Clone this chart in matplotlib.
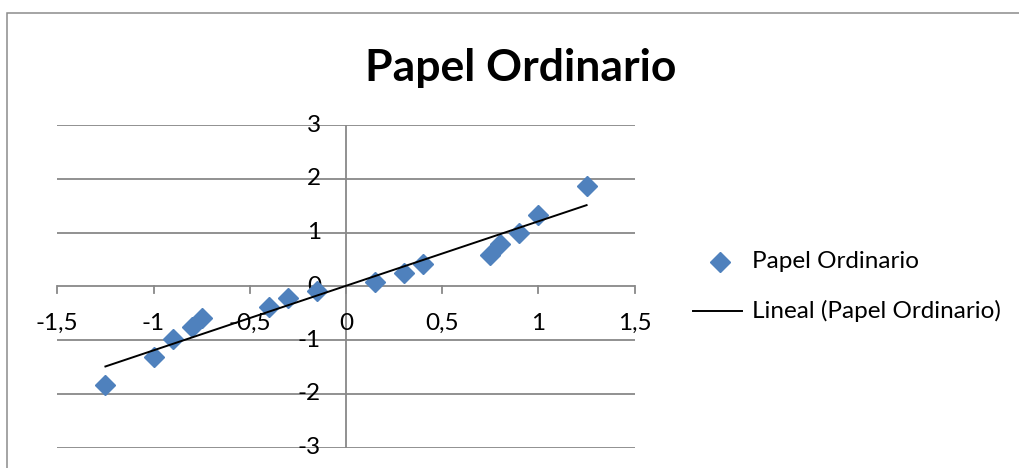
import numpy as np
import matplotlib
matplotlib.use("Agg")
import matplotlib.pyplot as plt
from matplotlib.patches import Rectangle
from matplotlib.lines import Line2D

plt.rcParams['font.family'] = ['Lato', 'DejaVu Sans']

# Normal-probability style pairs: theoretical score vs standardised value
x_vals = [-1.25, -1.0, -0.9, -0.8, -0.75, -0.4, -0.3, -0.15,
          0.15, 0.3, 0.4, 0.75, 0.8, 0.9, 1.0, 1.25]
y_vals = [-1.84, -1.31, -0.98, -0.75, -0.58, -0.38, -0.22, -0.09,
          0.09, 0.25, 0.41, 0.59, 0.78, 1.00, 1.33, 1.86]

x_ticks = [-1.5, -1.0, -0.5, 0.0, 0.5, 1.0, 1.5]
x_tick_labels = ["-1,5", "-1", "-0,5", "0", "0,5", "1", "1,5"]
y_ticks = [-3, -2, -1, 0, 1, 2, 3]
y_tick_labels = ["-3", "-2", "-1", "0", "1", "2", "3"]

title = "Papel Ordinario"
series_name = "Papel Ordinario"
trend_name = "Lineal (Papel Ordinario)"

W, H = 1019, 468
fig = plt.figure(figsize=(W / 100, H / 100), dpi=100)


def fx(px):
    return px / W


def fy(py):
    return 1 - py / H


# chart outer border
fig.patches.append(Rectangle((fx(7), -0.1), 1.2, fy(13) + 0.1,
                             transform=fig.transFigure, fill=False,
                             edgecolor="#8c8c8c", linewidth=1.1))

ax = fig.add_axes([fx(57.3), fy(447.7), 577.4 / W, 322.7 / H])
ax.set_xlim(-1.5, 1.5)
ax.set_ylim(-3, 3)

grid_col = "#888888"
grid_lw = 1.3
for yt in y_ticks:
    ax.axhline(yt, color=grid_col, linewidth=grid_lw, zorder=1)

for s in ["top", "right", "bottom", "left"]:
    ax.spines[s].set_visible(False)
ax.axvline(0, color=grid_col, linewidth=grid_lw, zorder=1)

ax.set_xticks([])
ax.set_yticks([])

tick_fs = 17.5

# x-axis tick marks and labels along y = 0
for xt, lab in zip(x_ticks, x_tick_labels):
    ax.plot([xt, xt], [0, -0.12], color=grid_col, linewidth=grid_lw,
            zorder=1, clip_on=False)
    ax.text(xt, -0.69, lab, ha="center", va="center", fontsize=tick_fs,
            zorder=2)

# y-axis labels next to the vertical axis at x = 0
for yt, lab in zip(y_ticks, y_tick_labels):
    ax.text(-0.13, yt, lab, ha="right", va="center", fontsize=tick_fs,
            zorder=2)

marker_col = "#4f81bd"
ax.plot(x_vals, y_vals, linestyle="none", marker="D", markersize=10.5,
        color=marker_col, zorder=4, clip_on=False)

# least-squares linear trendline
slope, intercept = np.polyfit(x_vals, y_vals, 1)
xt_line = np.array([min(x_vals), max(x_vals)])
ax.plot(xt_line, slope * xt_line + intercept, color="black", linewidth=1.4,
        zorder=5)

fig.text(fx(521), fy(81), title, ha="center", va="baseline",
         fontsize=32, fontweight="bold")

# legend
fig.add_artist(Line2D([fx(720)], [fy(262)], linestyle="none", marker="D",
                      markersize=10.5, color=marker_col,
                      transform=fig.transFigure))
fig.add_artist(Line2D([fx(693), fx(742)], [fy(311), fy(311)],
                      color="black", linewidth=1.4,
                      transform=fig.transFigure))
fig.text(fx(752), fy(262), series_name, ha="left", va="center",
         fontsize=17.5)
fig.text(fx(752), fy(311), trend_name, ha="left", va="center",
         fontsize=17.5)

fig.savefig("out.png", dpi=100)
